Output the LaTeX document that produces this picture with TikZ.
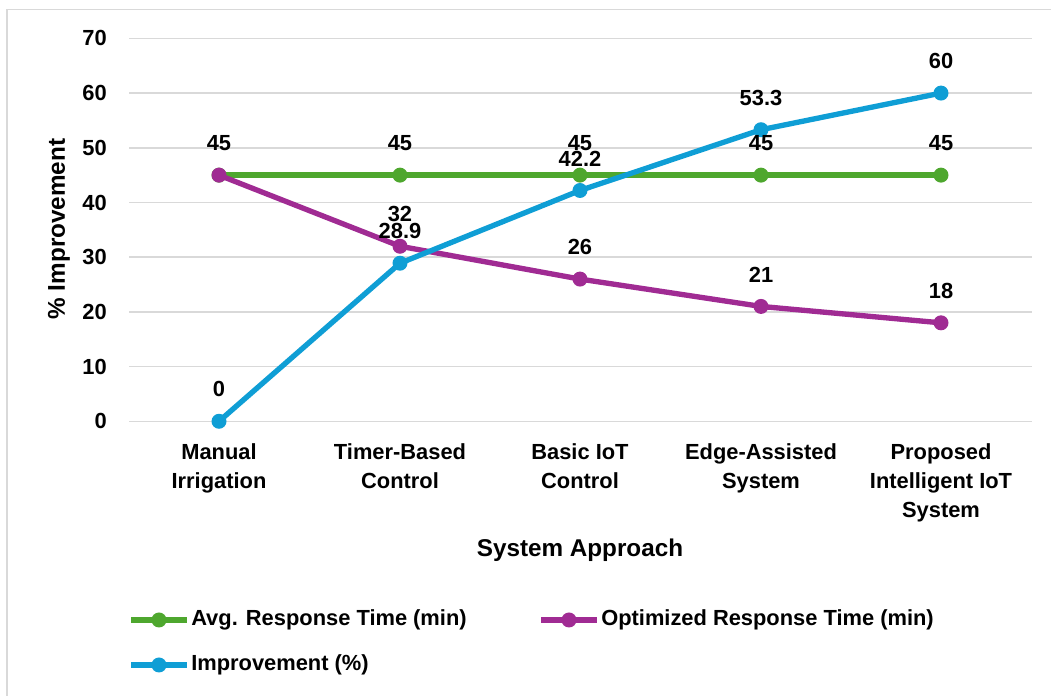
\documentclass[tikz,border=0pt]{standalone}
\usepackage{fontspec}
\setmainfont{Liberation Sans}
\usetikzlibrary{positioning}
\definecolor{mygreen}{HTML}{4EA72E}
\definecolor{mypurple}{HTML}{A02B93}
\definecolor{myblue}{HTML}{0F9ED5}
\definecolor{mygray}{HTML}{D9D9D9}

\begin{document}
\begin{tikzpicture}[x=0.75pt,y=0.75pt,inner sep=0pt,font=\bfseries\fontsize{16.4}{21.75}\selectfont]
\tikzstyle{grid}=[draw=mygray, line width=1.1pt]
\tikzstyle{series}=[line width=4pt, line join=round]
\tikzstyle{dot}=[circle, minimum size=11.25pt]
\tikzstyle{val}=[above=18.1pt]
\tikzstyle{cat}=[anchor=north, align=center]
\tikzstyle{title}=[font=\bfseries\fontsize{18.2}{22}\selectfont]
\useasboundingbox (0,0) rectangle (1051,696);
\draw[mygray, line width=1pt] (7,0) -- (7,686.5) -- (1051,686.5);
\begin{scope}[shift={(0,274.7)}, y=4.1025pt]
% grid and ticks
\foreach \v in {0,10,...,70}{
  \draw[grid] (129,\v) -- (1032,\v);
  \node[anchor=east] (t\v) at (107,\v) {\v};
}
% points
\coordinate (g1) at (219,45);  \coordinate (g2) at (400,45);
\coordinate (g3) at (580,45);  \coordinate (g4) at (761,45);
\coordinate (g5) at (941,45);
\coordinate (p1) at (219,45);  \coordinate (p2) at (400,32);
\coordinate (p3) at (580,26);  \coordinate (p4) at (761,21);
\coordinate (p5) at (941,18);
\coordinate (b1) at (219,0);   \coordinate (b2) at (400,28.9);
\coordinate (b3) at (580,42.2); \coordinate (b4) at (761,53.3);
\coordinate (b5) at (941,60);
% series
\draw[series, mygreen] (g1) -- (g2) -- (g3) -- (g4) -- (g5);
\foreach \i in {1,...,5} \node[dot, fill=mygreen] at (g\i) {};
\draw[series, mypurple] (p1) -- (p2) -- (p3) -- (p4) -- (p5);
\foreach \i in {1,...,5} \node[dot, fill=mypurple] at (p\i) {};
\draw[series, myblue] (b1) -- (b2) -- (b3) -- (b4) -- (b5);
\foreach \i in {1,...,5} \node[dot, fill=myblue] at (b\i) {};
% data labels
\node[val] (gv1) at (g1) {45};
\node[val] (gv2) at (g2) {45};
\node[val] (gv3) at (g3) {45};
\node[val] (gv4) at (g4) {45};
\node[val] (gv5) at (g5) {45};
\node[val] (pv2) at (p2) {32};
\node[val] (pv3) at (p3) {26};
\node[val] (pv4) at (p4) {21};
\node[val] (pv5) at (p5) {18};
\node[val] (bv1) at (b1) {0};
\node[val] (bv2) at (b2) {28.9};
\node[val] (bv3) at (b3) {42.2};
\node[val] (bv4) at (b4) {53.3};
\node[val] (bv5) at (b5) {60};
\end{scope}
% categories
\node[cat] (c1) at (219,253) {Manual\\Irrigation};
\node[cat] (c2) at (400,253) {Timer-Based\\Control};
\node[cat] (c3) at (580,253) {Basic IoT\\Control};
\node[cat] (c4) at (761,253) {Edge-Assisted\\System};
\node[cat] (c5) at (941,253) {Proposed\\Intelligent IoT\\System};
% axis titles
\node[title] (xtitle) at (580,146) {System Approach};
\node[title, rotate=90] (ytitle) at (59,467) {\% Improvement};
% legend
\coordinate (la1) at (131,76); \coordinate (la2) at (187,76);
\draw[series, mygreen] (la1) -- (la2);
\node[dot, fill=mygreen] (lag) at (159,76) {};
\node[anchor=west] (lta) at (191,76) {Avg. Response Time (min)};
\coordinate (lo1) at (541,76); \coordinate (lo2) at (597,76);
\draw[series, mypurple] (lo1) -- (lo2);
\node[dot, fill=mypurple] (lop) at (569,76) {};
\node[anchor=west] (lto) at (601,76) {Optimized Response Time (min)};
\coordinate (li1) at (131,31); \coordinate (li2) at (187,31);
\draw[series, myblue] (li1) -- (li2);
\node[dot, fill=myblue] (lib) at (159,31) {};
\node[anchor=west] (lti) at (191,31) {Improvement (\%)};
\end{tikzpicture}
\end{document}
